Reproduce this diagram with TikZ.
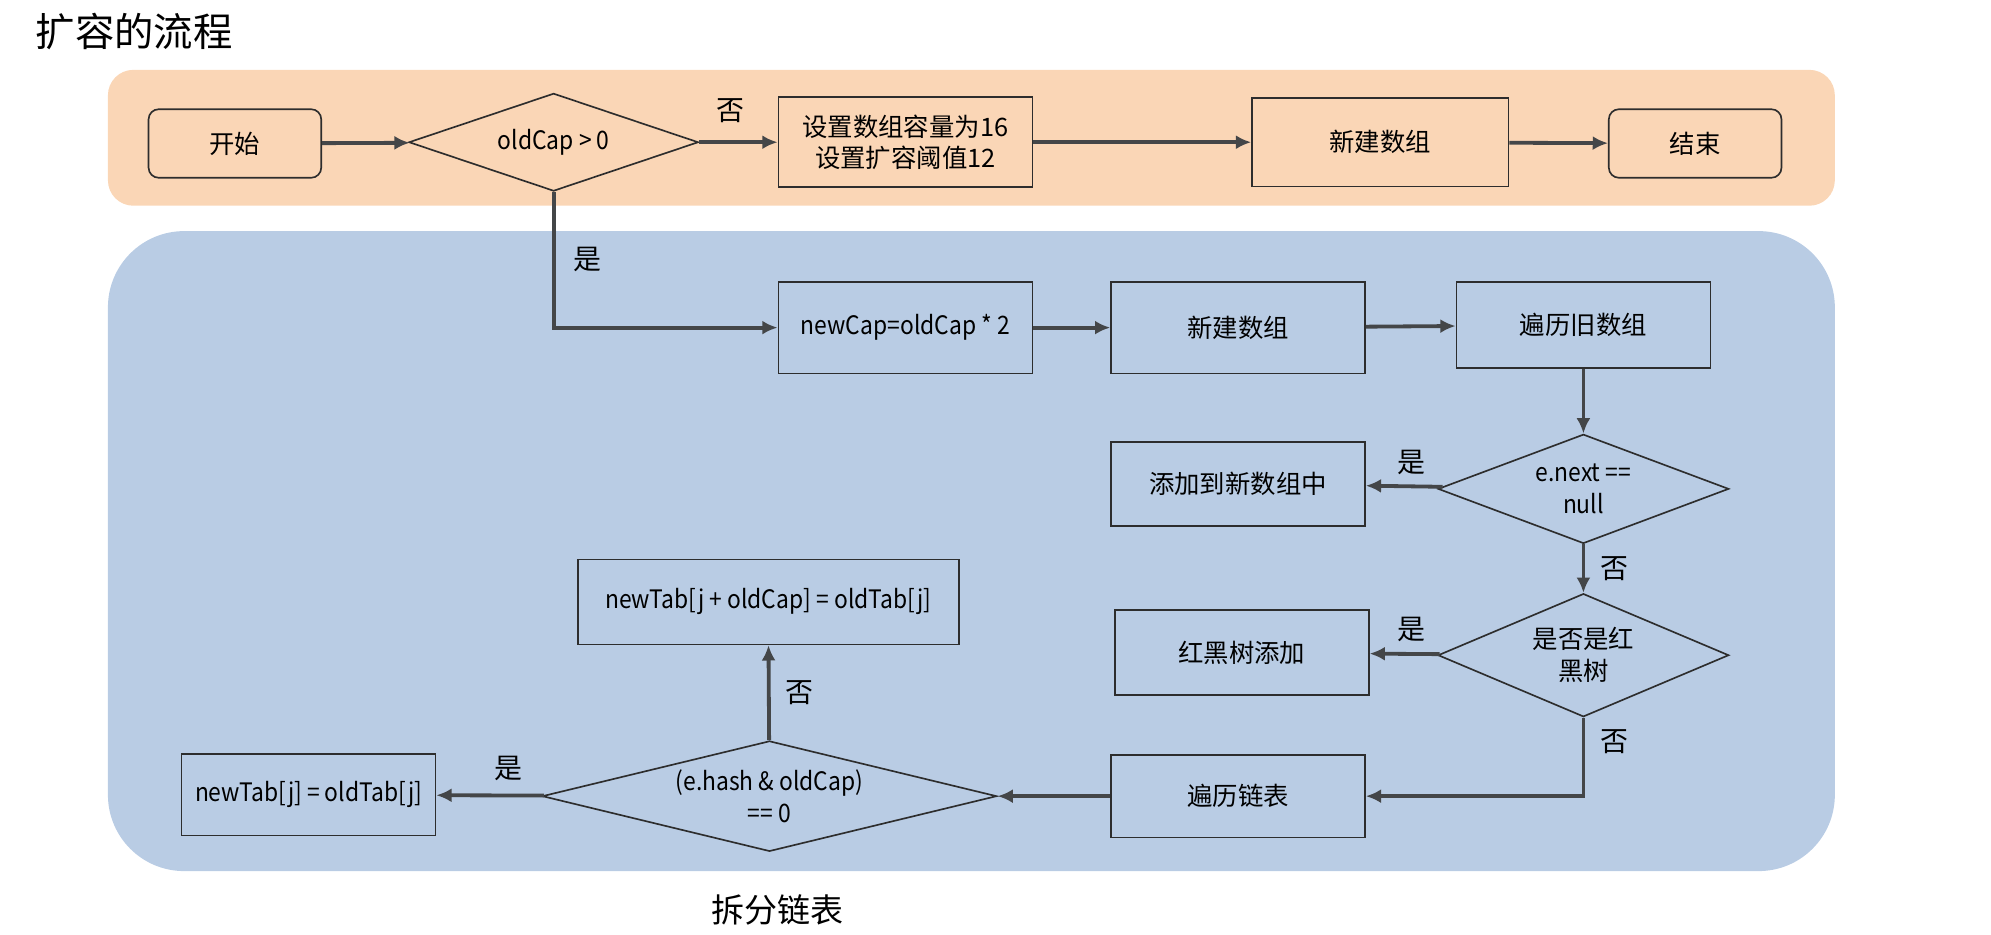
\documentclass[tikz,border=0pt]{standalone}
\usepackage{fontspec}
\setmainfont{Noto Sans CJK SC}
\usetikzlibrary{shapes.geometric,arrows.meta}

\definecolor{orangeband}{RGB}{250,214,182}
\definecolor{blueband}{RGB}{185,204,228}
\definecolor{edgegray}{RGB}{68,70,72}
\definecolor{framegray}{RGB}{45,45,45}

\newcommand{\narrowlatin}{\addfontfeatures{FakeStretch=0.9}}

\tikzset{
  procbox/.style={draw=framegray, line width=0.65pt, minimum width=100pt, minimum height=34pt,
    align=center, font=\fontsize{10}{12.5}\selectfont},
  termbox/.style={procbox, rounded corners=4pt, minimum width=68pt, minimum height=27pt},
  decision/.style={diamond, draw=framegray, line width=0.65pt, inner sep=0pt,
    align=center, font=\fontsize{10}{12.5}\selectfont},
  codetext/.style={font=\fontsize{10}{12.5}\selectfont\narrowlatin},
  flow/.style={draw=edgegray, line width=1.5pt, ->, >={Latex[length=6pt,width=5.5pt]}},
  yesno/.style={font=\fontsize{11}{13}\selectfont, inner sep=2pt}
}

\begin{document}
\begin{tikzpicture}[x=0.5pt, y=-0.5pt]
    \useasboundingbox (0,0) rectangle (1568,736);

    % the two coloured bands
    \fill[orangeband, rounded corners=10pt] (85,55) rectangle (1445,162);
    \fill[blueband, rounded corners=30pt] (85,182) rectangle (1445,686);

    \node[anchor=west, font=\fontsize{15.5}{18}\selectfont] (title) at (21,25) {扩容的流程};

    % first row
    \node[termbox] (start) at (185,113) {开始};
    \node[decision, codetext, minimum width=114pt, minimum height=38.5pt, aspect=2.96] (cap) at (436,112) {oldCap > 0};
    \node[procbox, minimum height=35.5pt] (init) at (713,112) {设置数组容量为16\\设置扩容阈值12};
    \node[procbox, minimum width=101pt, minimum height=35pt] (newA) at (1087,112) {新建数组};
    \node[termbox] (stop) at (1335,113) {结束};

    % resize branch
    \node[procbox, codetext, minimum height=36pt] (double) at (713,258) {newCap=oldCap * 2};
    \node[procbox, minimum height=36pt] (newB) at (975,258) {新建数组};
    \node[procbox] (walk) at (1247,256) {遍历旧数组};
    \node[decision, codetext, minimum width=114.5pt, minimum height=43pt, aspect=2.66] (single) at (1247,385) {e.next ==\\null};
    \node[procbox, minimum height=33pt] (add) at (975,381) {添加到新数组中};
    \node[decision, minimum width=114.5pt, minimum height=48.5pt, aspect=2.36] (tree) at (1247,516) {是否是红\\黑树};
    \node[procbox, minimum height=33.5pt] (treeadd) at (978,514) {红黑树添加};
    \node[procbox, minimum height=32.5pt] (list) at (975,627) {遍历链表};
    \node[decision, codetext, minimum width=179pt, minimum height=43.5pt, aspect=4.11] (split) at (606,627) {(e.hash \& oldCap)\\== 0};
    \node[procbox, codetext, minimum height=32pt] (low) at (243,626) {newTab[j] = oldTab[j]};
    \node[procbox, codetext, minimum width=150pt, minimum height=33.5pt] (high) at (605,474) {newTab[j + oldCap] = oldTab[j]};

    \node[font=\fontsize{13}{15}\selectfont] (splitname) at (612,717) {拆分链表};

    % connectors
    \draw[flow] (start) -- (cap);
    \draw[flow] (cap) -- node[yesno, pos=0.4, above=5pt] {否} (init);
    \draw[flow] (init) -- (newA);
    \draw[flow] (newA) -- (stop);
    \draw[flow] (cap.south) |- node[yesno, pos=0.25, right=5pt] {是} (double.west);
    \draw[flow] (double) -- (newB);
    \draw[flow] (newB) -- (walk);
    \draw[flow] (walk) -- (single);
    \draw[flow] (single) -- node[yesno, pos=0.4, above=2pt] {是} (add);
    \draw[flow] (single) -- node[yesno, right=4pt] {否} (tree);
    \draw[flow] (tree) -- node[yesno, pos=0.4, above=2pt] {是} (treeadd);
    \draw[flow] (tree.south) |- node[yesno, pos=0.15, right=4pt] {否} (list.east);
    \draw[flow] (list) -- (split);
    \draw[flow] (split) -- node[yesno, pos=0.33, above=3pt] {是} (low);
    \draw[flow] (split) -- node[yesno, right=4pt] {否} (high);
\end{tikzpicture}
\end{document}
